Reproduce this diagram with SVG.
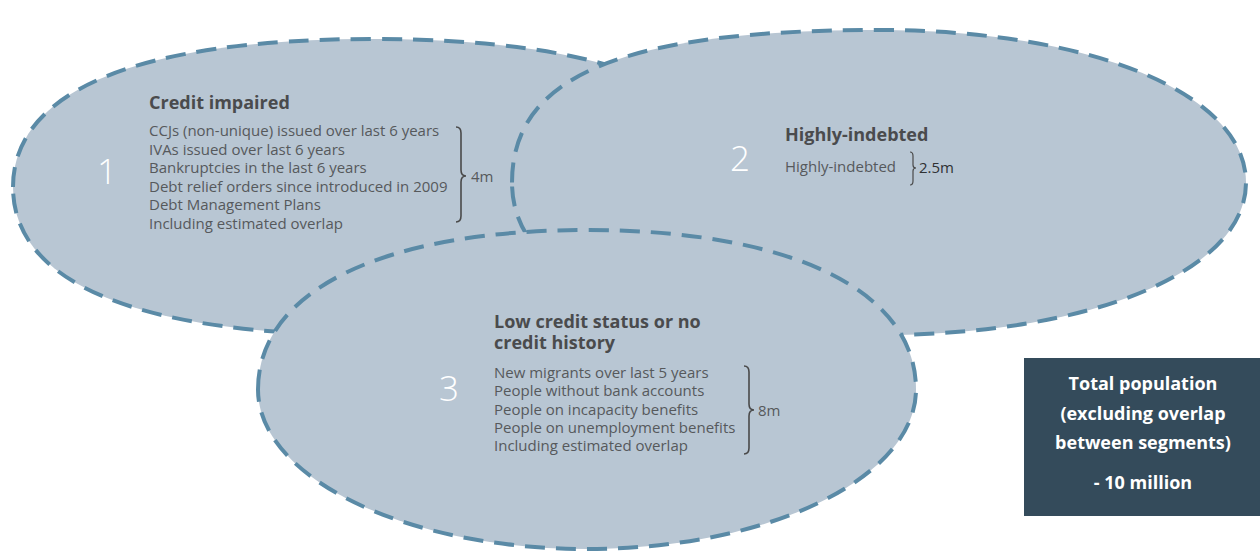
<svg xmlns="http://www.w3.org/2000/svg" width="1260" height="552" viewBox="0 0 1260 552">
<style>
.seg{fill:#b8c6d3;stroke:#5a8aa6;stroke-width:4;stroke-dasharray:20 11}
.num{font-family:"Open Sans Light","Open Sans","Liberation Sans",sans-serif;font-size:35px;fill:#ffffff;font-weight:300}
.ttl{font-family:"Open Sans","Liberation Sans",sans-serif;font-size:18px;font-weight:bold;fill:#4a4b4d}
.itm{font-family:"Open Sans","Liberation Sans",sans-serif;font-size:15px;fill:#56595c}
.val{font-family:"Open Sans","Liberation Sans",sans-serif;font-size:15px;fill:#56595c}
.brace{fill:none;stroke:#4a4a4a;stroke-width:1.6}
.box{fill:#344b5b}
.btxt{font-family:"Open Sans","Liberation Sans",sans-serif;font-size:18px;font-weight:bold;fill:#ffffff;text-anchor:middle}
</style>
<rect width="1260" height="552" fill="#ffffff"/>
<g id="seg1">
<path class="seg" d="M13,187 C13,92 135,39 373,39 C611,39 733,92 733,187 C733,282 611,335 373,335 C135,335 13,282 13,187 Z"/>
<text class="num" x="97" y="184">1</text>
<text class="ttl" x="149" y="108.5">Credit impaired</text>
<text class="itm" x="149" y="136">CCJs (non-unique) issued over last 6 years</text>
<text class="itm" x="149" y="154.6">IVAs issued over last 6 years</text>
<text class="itm" x="149" y="173.2">Bankruptcies in the last 6 years</text>
<text class="itm" x="149" y="191.8">Debt relief orders since introduced in 2009</text>
<text class="itm" x="149" y="210.4">Debt Management Plans</text>
<text class="itm" x="149" y="229">Including estimated overlap</text>
<path class="brace" d="M456,127 Q461,127 461,133 L461,170 Q461,176 466,176 Q461,176 461,182 L461,216 Q461,222 456,222"/>
<text class="val" x="471" y="182">4m</text>
</g>
<g id="seg2">
<path class="seg" d="M512,182.5 C512,75.75 622.4,30 879,30 C1092,30 1246,94 1246,182.5 C1246,271 1092,335 879,335 C640,335 512,280 512,182.5 Z"/>
<text class="num" x="730" y="171">2</text>
<text class="ttl" x="785" y="141">Highly-indebted</text>
<text class="itm" x="785" y="172">Highly-indebted</text>
<path class="brace" d="M910,152 Q913,152 913,156 L913,165 Q913,168 916,168 Q913,168 913,171 L913,181 Q913,185 910,185" style="stroke-width:1.2"/>
<text class="val" x="919" y="173" style="fill:#2f3133">2.5m</text>
</g>
<g id="seg3">
<path class="seg" d="M258,389.5 C258,290.6 383,230 587,230 C791,230 916,290.6 916,389.5 C916,477.6 769,549 587,549 C405,549 258,477.6 258,389.5 Z"/>
<text class="num" x="439" y="401">3</text>
<text class="ttl" x="494" y="328">Low credit status or no<tspan x="494" dy="21">credit history</tspan></text>
<text class="itm" x="494" y="378">New migrants over last 5 years</text>
<text class="itm" x="494" y="396.3">People without bank accounts</text>
<text class="itm" x="494" y="414.6">People on incapacity benefits</text>
<text class="itm" x="494" y="432.9">People on unemployment benefits</text>
<text class="itm" x="494" y="451.2">Including estimated overlap</text>
<path class="brace" d="M744,366 Q749,366 749,372 L749,404 Q749,410 754,410 Q749,410 749,416 L749,448 Q749,454 744,454"/>
<text class="val" x="758" y="416">8m</text>
</g>
<g id="total">
<rect class="box" x="1024" y="358" width="236" height="158"/>
<text class="btxt" x="1143" y="390">Total population</text>
<text class="btxt" x="1143" y="420">(excluding overlap</text>
<text class="btxt" x="1143" y="449">between segments)</text>
<text class="btxt" x="1143" y="489">- 10 million</text>
</g>
</svg>
